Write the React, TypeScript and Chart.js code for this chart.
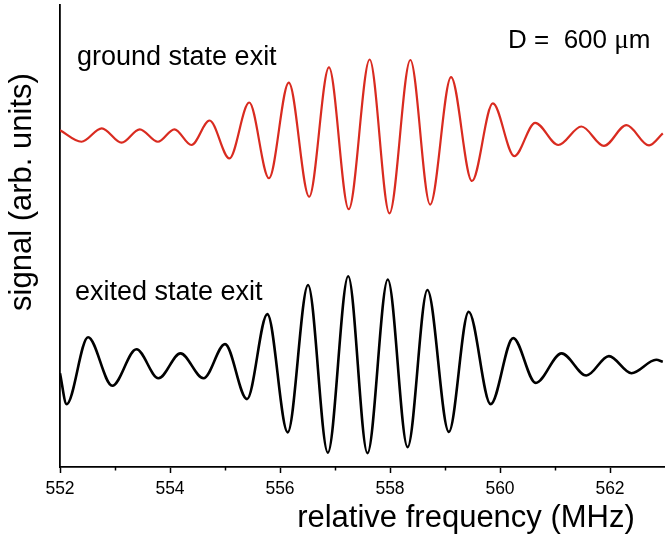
import React, { useEffect, useRef } from 'react';
import { Chart, registerables } from 'chart.js';

Chart.register(...registerables);

// relative frequency (MHz) and signal (arb. units)
const groundFreq = [552.0, 552.39, 552.76, 553.12, 553.45, 553.78, 554.08, 554.39, 554.72, 555.08, 555.44, 555.8, 556.16, 556.53, 556.89, 557.25, 557.63, 557.99, 558.37, 558.73, 559.11, 559.49, 559.87, 560.26, 560.64, 561.06, 561.48, 561.89, 562.3, 562.71, 562.96];
const groundSignal = [7.29, 7.04, 7.33, 7.02, 7.31, 7.04, 7.31, 6.97, 7.5, 6.68, 7.89, 6.25, 8.32, 5.85, 8.65, 5.58, 8.82, 5.49, 8.81, 5.68, 8.44, 6.19, 7.87, 6.73, 7.45, 6.97, 7.37, 6.95, 7.4, 6.96, 7.22];

const excitedFreq = [552.0, 552.12, 552.51, 552.95, 553.39, 553.79, 554.19, 554.61, 555.0, 555.4, 555.77, 556.14, 556.51, 556.87, 557.24, 557.59, 557.96, 558.32, 558.68, 559.07, 559.43, 559.83, 560.24, 560.65, 561.12, 561.57, 561.98, 562.39, 562.84, 562.96];
const excitedSignal = [2.03, 1.36, 2.81, 1.76, 2.55, 1.92, 2.46, 1.92, 2.66, 1.47, 3.31, 0.75, 3.94, 0.31, 4.13, 0.3, 4.06, 0.43, 3.83, 0.76, 3.36, 1.36, 2.79, 1.82, 2.46, 1.98, 2.4, 2.03, 2.32, 2.28];

const xMin = 552;
const xMax = 563;
const majorTicks = [552, 554, 556, 558, 560, 562];
const minorTicks = [553, 555, 557, 559, 561];

const groundLabel = 'ground state exit';
const excitedLabel = 'exited state exit';
const xTitle = 'relative frequency (MHz)';
const yTitle = 'signal (arb. units)';

const SANS = '"Liberation Sans", Arial, sans-serif';

const textPlugin = {
  id: 'textPlugin',
  afterDraw(chart: any) {
    const ctx = chart.ctx;
    const xs = chart.scales.x;
    ctx.save();
    // minor ticks
    ctx.strokeStyle = '#000';
    ctx.lineWidth = 1.5;
    minorTicks.forEach((v) => {
      const px = Math.round(xs.getPixelForValue(v)) + 0.5;
      ctx.beginPath();
      ctx.moveTo(px, xs.top);
      ctx.lineTo(px, xs.top + 3.5);
      ctx.stroke();
    });

    ctx.fillStyle = '#000';
    ctx.textBaseline = 'alphabetic';
    ctx.textAlign = 'left';
    ctx.font = `27px ${SANS}`;
    ctx.fillText(groundLabel, 77, 65);
    ctx.fillText(excitedLabel, 75, 300);

    // D = 600 µm
    ctx.font = `26px ${SANS}`;
    let x = 508;
    const part1 = 'D =  600 ';
    ctx.fillText(part1, x, 48);
    x += ctx.measureText(part1).width;
    ctx.font = `27px "Liberation Serif", serif`;
    ctx.fillText('\u03bc', x, 48);
    x += ctx.measureText('\u03bc').width;
    ctx.font = `26px ${SANS}`;
    ctx.fillText('m', x, 48);

    // axis titles
    ctx.font = `31px ${SANS}`;
    ctx.textAlign = 'center';
    ctx.fillText(xTitle, 466, 527);

    ctx.translate(31, 192);
    ctx.rotate(-Math.PI / 2);
    ctx.fillText(yTitle, 0, 0);
    ctx.restore();
  },
};

export default function App() {
  const ref = useRef<HTMLCanvasElement>(null);

  useEffect(() => {
    const canvas = ref.current;
    if (!canvas) return;
    const chart = new Chart(canvas, {
      type: 'line',
      data: {
        datasets: [
          {
            label: groundLabel,
            data: groundFreq.map((f, i) => ({ x: f, y: groundSignal[i] })),
            borderColor: '#d92b20',
            borderWidth: 2.2,
            pointRadius: 0,
            cubicInterpolationMode: 'monotone',
            fill: false,
          },
          {
            label: excitedLabel,
            data: excitedFreq.map((f, i) => ({ x: f, y: excitedSignal[i] })),
            borderColor: '#000000',
            borderWidth: 2.6,
            pointRadius: 0,
            cubicInterpolationMode: 'monotone',
            fill: false,
          },
        ],
      },
      options: {
        animation: false,
        responsive: false,
        maintainAspectRatio: false,
        layout: { padding: { top: 5, left: 0, right: 0, bottom: 0 } },
        plugins: {
          legend: { display: false },
          tooltip: { enabled: false },
          title: { display: false },
        },
        scales: {
          x: {
            type: 'linear',
            min: xMin,
            max: xMax,
            afterFit: (s: any) => {
              s.height = 68;
            },
            afterBuildTicks: (s: any) => {
              s.ticks = majorTicks.map((v) => ({ value: v }));
            },
            ticks: {
              autoSkip: false,
              maxRotation: 0,
              color: '#000',
              padding: 6,
              font: { family: SANS, size: 17.5 },
              callback: (v: any) => String(v),
            },
            grid: {
              display: true,
              drawOnChartArea: false,
              drawTicks: true,
              tickLength: 6,
              tickWidth: 1.5,
              tickColor: '#000',
            },
            border: { display: true, color: '#000', width: 1.8 },
          },
          y: {
            type: 'linear',
            min: 0,
            max: 10,
            afterFit: (s: any) => {
              s.width = 60;
            },
            ticks: { display: false },
            grid: { display: false, drawTicks: false },
            border: { display: true, color: '#000', width: 1.8 },
          },
        },
      },
      plugins: [textPlugin],
    });
    return () => chart.destroy();
  }, []);

  return (
    <div style={{ position: 'absolute', left: 0, top: 0, width: 665, height: 535, background: '#fff' }}>
      <canvas ref={ref} width={665} height={535} style={{ display: 'block' }} />
    </div>
  );
}
